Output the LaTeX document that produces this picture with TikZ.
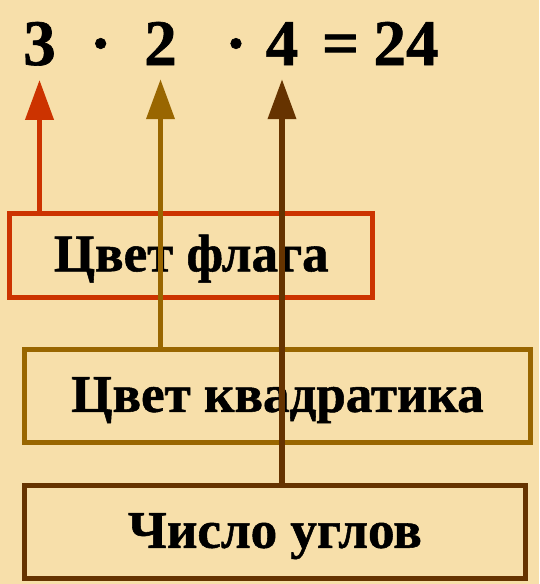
\documentclass[tikz,border=0pt]{standalone}
\usepackage{fontspec}
\setmainfont{Liberation Serif}
\newfontfamily\bfont{Liberation Serif Bold}[FakeBold=1]
\usetikzlibrary{arrows.meta}
\definecolor{bgc}{HTML}{F7DFAA}
\definecolor{redc}{HTML}{CC3300}
\definecolor{goldc}{HTML}{996600}
\definecolor{brownc}{HTML}{663300}
\tikzset{
  eq/.style={inner sep=0pt, anchor=base, font=\bfont\fontsize{65}{70}\selectfont},
  box/.style={draw, line width=5pt, inner sep=0pt, text height=32pt, text depth=0pt,
    font=\bfont\fontsize{53}{60}\selectfont},
  arr/.style={line width=5.5pt, -{Triangle[length=40pt,width=27.5pt]}, shorten >=14pt}
}
\begin{document}
\begin{tikzpicture}[x=1pt,y=-1pt]
\fill[bgc] (0,0) rectangle (539,584);
\useasboundingbox (0,0) rectangle (539,584);
% equation
\node[eq] (n3) at (39.5,65) {3};
\node[eq] (d1) at (100.7,65) {·};
\node[eq] (n2) at (160.5,65) {2};
\node[eq] (d2) at (236,65) {·};
\node[eq] (n4) at (282,65) {4};
\node[eq] (eqs) at (340.5,65) {=};
\node[eq] (n24) at (406,65) {24};
% boxes
\node[box, draw=redc, minimum width=362.7pt, minimum height=84.3pt] (b1) at (191.2,255.3) {Цвет флага};
\node[box, draw=goldc, minimum width=505.3pt, minimum height=92.9pt] (b2) at (277.5,395.9) {Цвет квадратика};
\node[box, draw=brownc, minimum width=500.2pt, minimum height=92.6pt] (b3) at (274.9,531.8) {Число углов};
% arrows
\draw[arr, redc] (n3 |- b1.north) -- (n3.south);
\draw[arr, goldc] (n2 |- b2.north) -- (n2.south);
\draw[arr, brownc] (n4 |- b3.north) -- (n4.south);
\end{tikzpicture}
\end{document}
